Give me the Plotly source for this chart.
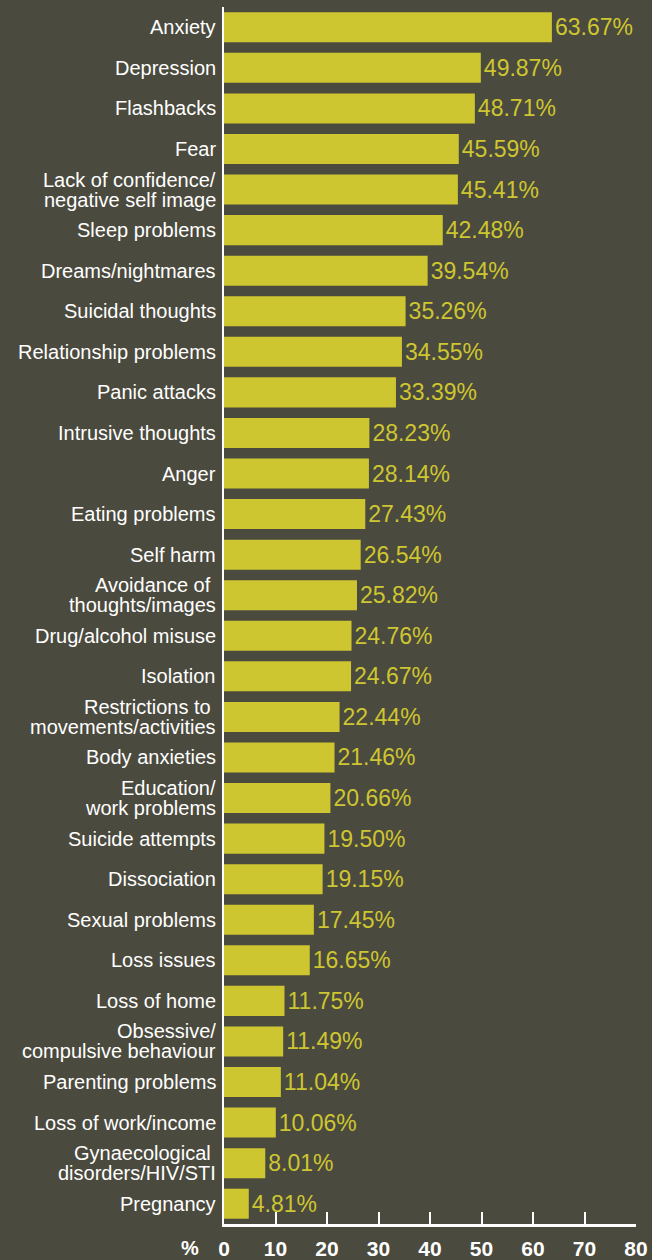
import plotly.graph_objects as go

categories = [
    "Anxiety", "Depression", "Flashbacks", "Fear",
    "Lack of confidence/\nnegative self image", "Sleep problems",
    "Dreams/nightmares", "Suicidal thoughts", "Relationship problems",
    "Panic attacks", "Intrusive thoughts", "Anger", "Eating problems",
    "Self harm", "Avoidance of \nthoughts/images", "Drug/alcohol misuse",
    "Isolation", "Restrictions to \nmovements/activities", "Body anxieties",
    "Education/\nwork problems", "Suicide attempts", "Dissociation",
    "Sexual problems", "Loss issues", "Loss of home",
    "Obsessive/\ncompulsive behaviour", "Parenting problems",
    "Loss of work/income", "Gynaecological \ndisorders/HIV/STI", "Pregnancy",
]
values = [63.67, 49.87, 48.71, 45.59, 45.41, 42.48, 39.54, 35.26, 34.55, 33.39,
          28.23, 28.14, 27.43, 26.54, 25.82, 24.76, 24.67, 22.44, 21.46, 20.66,
          19.50, 19.15, 17.45, 16.65, 11.75, 11.49, 11.04, 10.06, 8.01, 4.81]
x_ticks = [0, 10, 20, 30, 40, 50, 60, 70, 80]
axis_unit = "%"

BG = "#4b4a3e"
BAR = "#cec630"
FONT = "Liberation Sans, Arial, Helvetica, sans-serif"

keys = [c.replace("\n", " ").replace("  ", " ") for c in categories]
labels = [f"{v:.2f}%" for v in values]

fig = go.Figure()
fig.add_trace(go.Bar(
    x=values, y=keys, orientation="h",
    marker=dict(color=BAR, line=dict(width=0)),
    text=labels, textposition="outside", cliponaxis=False,
    textfont=dict(color=BAR, size=23, family=FONT),
    hoverinfo="skip",
))

annotations = []
LINE = 20
for key, cat in zip(keys, categories):
    lines = cat.split("\n")
    n = len(lines)
    for i, ln in enumerate(lines):
        txt = ln.rstrip()
        if ln.endswith(" "):
            txt = txt + "\u00a0"
        annotations.append(dict(
            xref="paper", yref="y", x=0, y=key, text=txt,
            xanchor="right", yanchor="middle", xshift=-6,
            yshift=((n - 1) / 2 - i) * LINE,
            showarrow=False, font=dict(color="white", size=20, family=FONT),
        ))
annotations.append(dict(
    xref="paper", yref="paper", x=0, y=0, text=f"<b>{axis_unit}</b>",
    xanchor="center", yanchor="middle", xshift=-34, yshift=-24,
    showarrow=False, font=dict(color="white", size=20, family=FONT),
))

fig.update_layout(
    width=652, height=1260,
    paper_bgcolor=BG, plot_bgcolor=BG,
    margin=dict(l=224, r=16, t=7, b=36),
    bargap=0.26,
    showlegend=False,
    annotations=annotations,
    xaxis=dict(
        range=[0, 80], tickvals=x_ticks, ticktext=[f"<b>{t}</b>" for t in x_ticks],
        ticks="inside", ticklen=12, tickwidth=2, tickcolor="white",
        showline=True, linecolor="white", linewidth=3,
        showgrid=False, zeroline=False, ticklabelstandoff=4, automargin=False,
        tickfont=dict(color="white", size=21, family=FONT),
    ),
    yaxis=dict(
        categoryorder="array", categoryarray=keys, autorange="reversed",
        showticklabels=False, showline=True, linecolor="white", linewidth=2,
        showgrid=False, zeroline=False, ticks="", automargin=False,
    ),
)

fig.write_html(
    "out.html",
    config={"displayModeBar": False},
    post_script="document.body.style.margin='0';document.body.style.background='%s';" % BG,
)
